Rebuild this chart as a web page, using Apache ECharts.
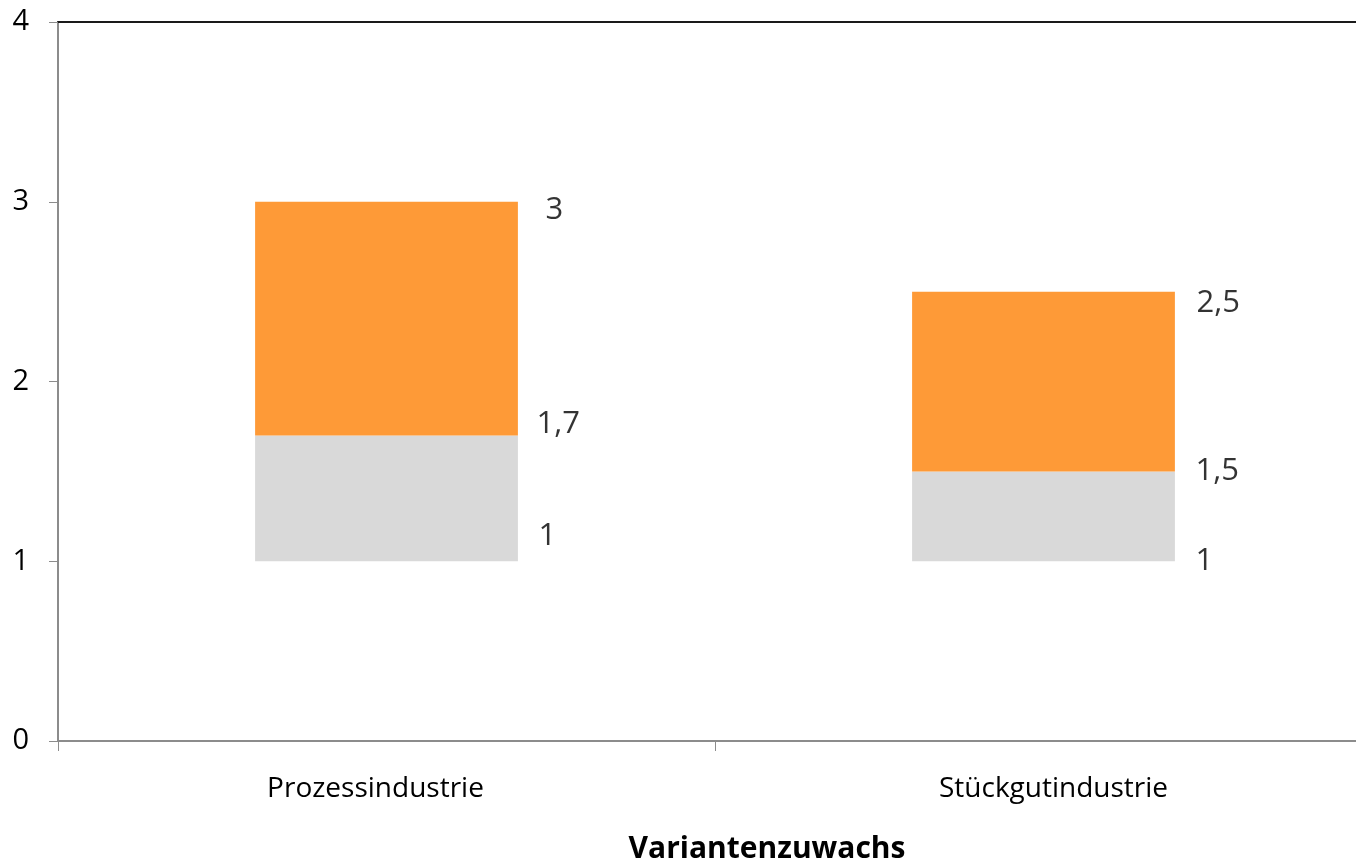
<!DOCTYPE html>
<html><head><meta charset="utf-8">
<script src="https://cdn.jsdelivr.net/npm/echarts@6/dist/echarts.min.js"></script>
<style>html,body{margin:0;padding:0;background:#fff}#c{width:1356px;height:860px}</style>
</head><body><div id="c"></div>
<script>
// ---- data ----
const categories = ['Prozessindustrie', 'Stückgutindustrie'];
const baseValues = [1, 1];        // bottom of the floating bars
const lowerValues = [1.7, 1.5];   // top of grey part
const upperValues = [3, 2.5];     // top of orange part
const yMin = 0, yMax = 4, yStep = 1;
const axisTitle = 'Variantenzuwachs';

// ---- styles (label placement offsets, per category: [upper, lower, base]) ----
const labelOffsets = [
  [[159, 8], [150, -11], [152, -25]],
  [[153, 12], [152, 0], [152, 0]]
];
const catLabelPad = [[0, 22, 0, 0], [0, 0, 0, 20]];
const FONT = 'Open Sans';

const fmt = v => String(v).replace('.', ',');

const greyPart = lowerValues.map((v, i) => +(v - baseValues[i]).toFixed(4));
const orangePart = upperValues.map((v, i) => +(v - lowerValues[i]).toFixed(4));

const labelPoints = [];
categories.forEach((c, i) => {
  [upperValues[i], lowerValues[i], baseValues[i]].forEach((v, k) => {
    labelPoints.push({
      value: [i, v],
      label: { offset: labelOffsets[i][k] }
    });
  });
});

const chart = echarts.init(document.getElementById('c'), null, { renderer: 'canvas' });
chart.setOption({
  animation: false,
  backgroundColor: '#ffffff',
  textStyle: { fontFamily: FONT },
  grid: { left: 58, right: -16, top: 22, bottom: 119, containLabel: false, outerBoundsMode: 'none' },
  xAxis: [
    {
      type: 'category',
      data: categories,
      position: 'bottom',
      axisLine: { show: true, lineStyle: { color: '#8c8c8c', width: 2 } },
      axisTick: { show: true, length: 10, lineStyle: { color: '#8c8c8c', width: 1 } },
      axisLabel: {
        margin: 34,
        color: '#000',
        fontSize: 28,
        fontFamily: FONT,
        formatter: (v, idx) => '{c' + idx + '|' + v + '}',
        rich: {
          c0: { fontSize: 28, fontFamily: FONT, color: '#000', padding: catLabelPad[0] },
          c1: { fontSize: 28, fontFamily: FONT, color: '#000', padding: catLabelPad[1] }
        }
      },
      name: axisTitle,
      nameLocation: 'middle',
      nameGap: 93,
      nameTextStyle: {
        fontSize: 30, fontWeight: 'bold', color: '#000', fontFamily: FONT,
        padding: [0, 0, 0, 104]
      }
    },
    {
      type: 'category',
      data: categories,
      position: 'top',
      axisLine: { show: true, lineStyle: { color: '#1a1a1a', width: 2 } },
      axisTick: { show: false },
      axisLabel: { show: false }
    }
  ],
  yAxis: {
    type: 'value',
    min: yMin, max: yMax, interval: yStep,
    axisLine: { show: true, lineStyle: { color: '#8c8c8c', width: 2 } },
    axisTick: { show: true, length: 9, lineStyle: { color: '#8c8c8c', width: 1 } },
    splitLine: { show: false },
    axisLabel: { margin: 29, color: '#000', fontSize: 29, fontFamily: FONT }
  },
  series: [
    {
      type: 'bar', stack: 'v', barWidth: '40%', silent: true,
      itemStyle: { color: 'rgba(0,0,0,0)' },
      data: baseValues
    },
    {
      type: 'bar', stack: 'v', barWidth: '40%',
      itemStyle: { color: '#d9d9d9' },
      data: greyPart
    },
    {
      type: 'bar', stack: 'v', barWidth: '40%',
      itemStyle: { color: '#fe9a37' },
      data: orangePart
    },
    {
      type: 'scatter', symbolSize: 0, silent: true,
      data: labelPoints,
      label: {
        show: true, position: 'right', distance: 0,
        align: 'left', verticalAlign: 'middle',
        fontSize: 31, color: '#000', fontFamily: FONT,
        formatter: p => fmt(p.value[1])
      },
      z: 5
    }
  ]
});
</script>
</body></html>
